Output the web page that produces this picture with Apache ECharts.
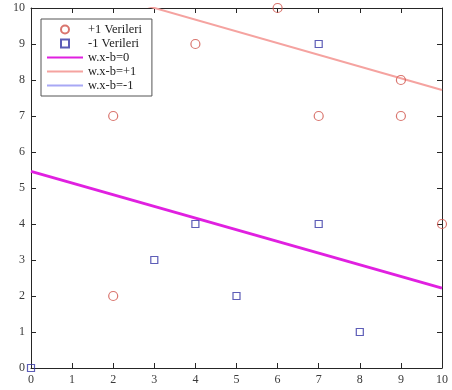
<!DOCTYPE html>
<html><head><meta charset="utf-8">
<script src="https://cdn.jsdelivr.net/npm/echarts@6/dist/echarts.min.js"></script>
<style>html,body{margin:0;padding:0;background:#fff}#c{width:452px;height:390px}</style>
</head><body><div id="c"></div>
<script>
const plusX = [2, 2, 4, 6, 7, 9, 9, 10];
const plusY = [2, 7, 9, 10, 7, 8, 7, 4];
const minusX = [0, 3, 4, 5, 7, 7, 8];
const minusY = [0, 3, 4, 2, 4, 9, 1];
const lineX = [0, 10];
const line0Y = [5.46, 2.22];
const linePlusY = [10.98, 7.72];
const lineMinusY = [-0.06, -3.30];
const ticks = [0, 1, 2, 3, 4, 5, 6, 7, 8, 9, 10];
const names = ['+1 Verileri', '-1 Verileri', 'w.x-b=0', 'w.x-b=+1', 'w.x-b=-1'];

const zip = (xs, ys) => xs.map((x, i) => [x, ys[i]]);
const font = 'Liberation Serif';
const axisCol = '#262626';
const lineIcon = 'path://M0,0L36,0L36,2.2L0,2.2Z';
const squareIcon = 'path://M0,0L10,0L10,10L0,10Z';

function axis(pos, show) {
  return {
    type: 'value', min: ticks[0], max: ticks[ticks.length - 1], interval: 1, position: pos,
    axisLine: {show: true, onZero: false, lineStyle: {color: axisCol, width: 1}},
    axisTick: {show: true, inside: true, length: 5, lineStyle: {color: axisCol}},
    axisLabel: {show: show, color: '#3a3a3a', fontFamily: font, fontSize: 12, margin: 6},
    splitLine: {show: false}
  };
}
const chart = echarts.init(document.getElementById('c'));
chart.setOption({
  animation: false,
  grid: {left: 31, right: 10, top: 8, bottom: 22},
  xAxis: [axis('bottom', true), axis('top', false)],
  yAxis: [axis('left', true), axis('right', false)],
  legend: {
    orient: 'vertical', left: 41, top: 19,
    data: [
      {name: names[0], icon: 'circle'},
      {name: names[1], icon: squareIcon},
      {name: names[2], icon: lineIcon},
      {name: names[3], icon: lineIcon},
      {name: names[4], icon: lineIcon}
    ],
    backgroundColor: '#fff', borderColor: '#555', borderWidth: 1,
    padding: [4, 10, 4, 6], itemGap: 1, itemWidth: 36, itemHeight: 8,
    textStyle: {fontFamily: font, fontSize: 12.5, lineHeight: 12, color: '#222'}
  },
  series: [
    {name: names[0], type: 'scatter', data: zip(plusX, plusY), symbol: 'circle', symbolSize: 9, clip: false,
      itemStyle: {color: 'rgba(0,0,0,0)', borderColor: '#d0524a', borderWidth: 1.2}, z: 5},
    {name: names[1], type: 'scatter', data: zip(minusX, minusY), symbol: 'rect', symbolSize: 7, clip: false,
      itemStyle: {color: 'rgba(0,0,0,0)', borderColor: '#3535a5', borderWidth: 1.2}, z: 5},
    {name: names[2], type: 'line', data: zip(lineX, line0Y), symbol: 'none', clip: true,
      lineStyle: {color: '#e020e0', width: 2.8}, itemStyle: {color: '#e020e0'}},
    {name: names[3], type: 'line', data: zip(lineX, linePlusY), symbol: 'none', clip: true,
      lineStyle: {color: '#f5a3a0', width: 2}, itemStyle: {color: '#f5a3a0'}},
    {name: names[4], type: 'line', data: zip(lineX, lineMinusY), symbol: 'none', clip: true,
      lineStyle: {color: '#a8a8f5', width: 2}, itemStyle: {color: '#a8a8f5'}}
  ]
});
</script></body></html>
